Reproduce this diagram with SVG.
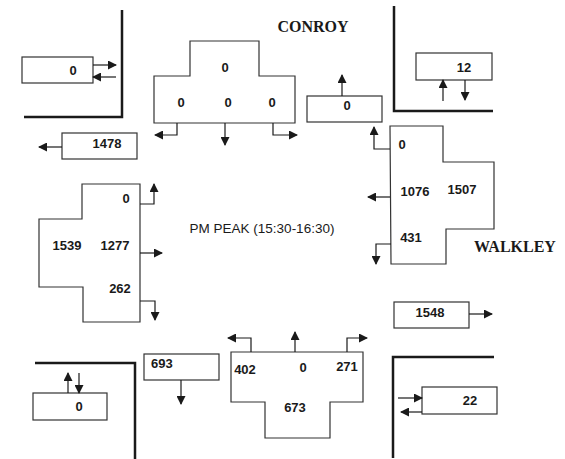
<svg xmlns="http://www.w3.org/2000/svg" width="565" height="459" viewBox="0 0 565 459">
<defs>
<marker id="ah" markerUnits="userSpaceOnUse" markerWidth="9" markerHeight="9" refX="8" refY="4.5" orient="auto">
<path d="M0,0 L9,4.5 L0,9 Z" fill="#1a1a1a"/>
</marker>
<style>
.bx{fill:#fff;stroke:#333;stroke-width:1.2}
.cn{fill:none;stroke:#1a1a1a;stroke-width:2.5}
.n{font-family:"Liberation Sans",Arial,sans-serif;font-size:13px;font-weight:bold;fill:#1a1a1a;text-anchor:middle}
.st{font-family:"Liberation Serif","Times New Roman",serif;font-size:16px;font-weight:bold;fill:#1a1a1a;text-anchor:middle}
.pk{font-family:"Liberation Sans",Arial,sans-serif;font-size:13.5px;fill:#1a1a1a;text-anchor:middle}
#connectors path{fill:none;stroke:#1a1a1a;stroke-width:1.2;marker-end:url(#ah)}
</style>
</defs>
<rect width="565" height="459" fill="#fff"/>
<g id="corners">
<polyline class="cn" points="122,10 122,117 24,117"/>
<polyline class="cn" points="394,6 394,111 493,111"/>
<polyline class="cn" points="35,363 135,363 135,459"/>
<polyline class="cn" points="393,458 393,357 494,357"/>
</g>
<text class="st" x="313" y="32">CONROY</text>
<text class="st" x="515" y="252">WALKLEY</text>
<text class="pk" x="262" y="233">PM PEAK (15:30-16:30)</text>
<g id="nw-box"><rect class="bx" x="22" y="57" width="71" height="26"/><text class="n" x="73" y="75">0</text></g>
<g id="box-1478"><rect class="bx" x="62" y="133" width="75" height="26"/><text class="n" x="107" y="148">1478</text></g>
<g id="north-approach"><path class="bx" d="M190,41 L259,41 L259,76 L295,76 L295,123 L154,123 L154,76 L190,76 Z"/>
<text class="n" x="225" y="72">0</text><text class="n" x="181" y="107">0</text><text class="n" x="228" y="107">0</text><text class="n" x="272" y="107">0</text></g>
<g id="north-exit"><rect class="bx" x="307" y="96" width="75" height="26"/><text class="n" x="347" y="110">0</text></g>
<g id="ne-box"><rect class="bx" x="416" y="53" width="76" height="27"/><text class="n" x="464" y="72">12</text></g>
<g id="east-approach"><path class="bx" d="M390,126 L443,126 L443,162 L494,162 L494,229 L446,229 L446,264 L391,264 Z"/>
<text class="n" x="402" y="149">0</text><text class="n" x="415" y="196">1076</text><text class="n" x="462" y="194">1507</text><text class="n" x="411" y="242">431</text></g>
<g id="west-approach"><path class="bx" d="M82,184 L140,184 L140,322 L83,322 L83,287 L39,287 L39,219 L82,219 Z"/>
<text class="n" x="126" y="203">0</text><text class="n" x="67" y="250">1539</text><text class="n" x="115" y="250">1277</text><text class="n" x="120" y="293">262</text></g>
<g id="box-1548"><rect class="bx" x="394" y="302" width="75" height="26"/><text class="n" x="430" y="317">1548</text></g>
<g id="se-box"><rect class="bx" x="422" y="387" width="75" height="27"/><text class="n" x="470" y="405">22</text></g>
<g id="south-approach"><path class="bx" d="M231,352 L363,352 L363,402 L330,402 L330,438 L265,438 L265,402 L231,402 Z"/>
<text class="n" x="245" y="374">402</text><text class="n" x="303" y="372">0</text><text class="n" x="347" y="371">271</text><text class="n" x="295" y="412">673</text></g>
<g id="box-693"><rect class="bx" x="144" y="354" width="75" height="26"/><text class="n" x="151" y="368" style="text-anchor:start">693</text></g>
<g id="sw-box"><rect class="bx" x="33" y="393" width="74" height="27"/><text class="n" x="79" y="411">0</text></g>
<g id="connectors">
<path d="M93,65 L116,65"/><path d="M116,77 L93,77"/>
<path d="M62,147 L39,147"/>
<path d="M177,123 L177,135 L155,135"/><path d="M225,123 L225,145"/><path d="M273,123 L273,135 L297,135"/>
<path d="M342,96 L342,75"/>
<path d="M443,101 L443,80"/><path d="M465,80 L465,100"/>
<path d="M390,149 L374,149 L374,127"/><path d="M390,197 L368,197"/><path d="M391,244 L376,244 L376,264"/>
<path d="M140,204 L154,204 L154,184"/><path d="M140,253 L162,253"/><path d="M140,301 L155,301 L155,320"/>
<path d="M469,314 L492,314"/>
<path d="M398,398 L422,398"/><path d="M422,412 L401,412"/>
<path d="M251,352 L251,338 L228,338"/><path d="M295,352 L295,332"/><path d="M347,352 L347,338 L367,338"/>
<path d="M181,380 L181,404"/>
<path d="M68,393 L68,373"/><path d="M79,373 L79,393"/>
</g>
</svg>
